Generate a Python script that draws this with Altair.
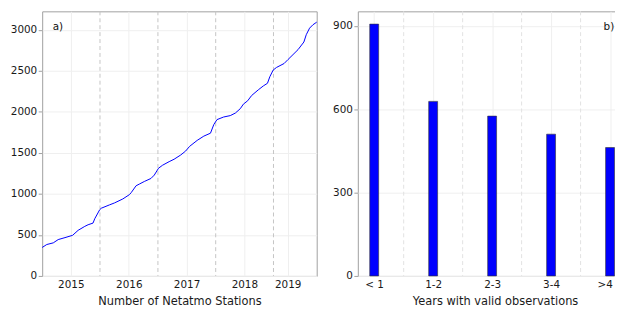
import altair as alt
import pandas as pd

# ---- panel a: number of Netatmo stations over time ----
dates = ["2015-01-01", "2015-01-30", "2015-03-12", "2015-04-12", "2015-05-25", "2015-07-12",
         "2015-08-16", "2015-09-27", "2015-10-18", "2015-11-18", "2015-11-29", "2015-12-30",
         "2016-01-09", "2016-03-01", "2016-04-02", "2016-05-24", "2016-07-05", "2016-07-16",
         "2016-08-16", "2016-09-06", "2016-10-07", "2016-11-18", "2016-12-09", "2017-01-05",
         "2017-01-30", "2017-03-13", "2017-04-13", "2017-05-25", "2017-06-25", "2017-07-20",
         "2017-09-06", "2017-10-18", "2017-11-29", "2017-12-20", "2018-01-09", "2018-02-20",
         "2018-04-03", "2018-05-05", "2018-06-05", "2018-06-25", "2018-07-22", "2018-08-16",
         "2018-09-27", "2018-10-29", "2018-11-24", "2018-12-09", "2018-12-30", "2019-01-20",
         "2019-03-09", "2019-04-03", "2019-06-05", "2019-07-12", "2019-07-27", "2019-08-17",
         "2019-09-07", "2019-10-01"]
stations = [347, 383, 403, 443, 467, 495,
            556, 604, 624, 644, 697, 806,
            825, 866, 890, 938, 991, 1015,
            1099, 1120, 1151, 1188, 1229, 1313,
            1349, 1393, 1422, 1474, 1522, 1579,
            1652, 1704, 1740, 1845, 1905, 1937,
            1954, 1985, 2038, 2094, 2135, 2199,
            2268, 2316, 2348, 2428, 2509, 2541,
            2589, 2638, 2758, 2851, 2940, 3020,
            3061, 3093]
year_boundaries = ["2016-01-01", "2017-01-01", "2018-01-01", "2019-01-01"]
year_ticks = [(2015, 7, 1), (2016, 7, 1), (2017, 7, 1), (2018, 7, 1), (2019, 4, 1)]

# ---- panel b: years with valid observations ----
categories = ["< 1", "1-2", "2-3", "3-4", ">4"]
counts = [906, 628, 575, 510, 462]

FONT = "DejaVu Sans"
BLUE = "#0000ff"
AXIS_GRAY = "#a0a0a0"

df_line = pd.DataFrame({"date": dates, "n": stations})
df_bound = pd.DataFrame({"date": year_boundaries})
df_bar = pd.DataFrame({"pos": list(range(len(categories))), "cat": categories, "count": counts})
df_mid = pd.DataFrame({"pos": [i + 0.5 for i in range(len(categories) - 1)]})

W, H = 277, 267

xscale = alt.Scale(type="utc", domain=["2015-01-01", "2019-10-01"])
xaxis = alt.Axis(
    title="Number of Netatmo Stations",
    values=[alt.DateTime(year=y, month=m, date=d, utc=True) for y, m, d in year_ticks],
    format="%Y", ticks=False, labelPadding=4, grid=True, gridColor="#efefef",
    domain=False,
)
yaxis_a = alt.Axis(title=None, values=[0, 500, 1000, 1500, 2000, 2500, 3000], format="d",
                   grid=True, gridColor="#efefef", tickSize=4, domain=False)

line = alt.Chart(df_line).mark_line(color=BLUE, strokeWidth=1).encode(
    x=alt.X("date:T", scale=xscale, axis=xaxis),
    y=alt.Y("n:Q", scale=alt.Scale(domain=[0, 3225], nice=False), axis=yaxis_a),
)
bounds = alt.Chart(df_bound).mark_rule(color="#c4c4c4", strokeDash=[4, 3], strokeWidth=1).encode(
    x=alt.X("date:T", scale=xscale)
)
label_a = alt.Chart(pd.DataFrame({"t": ["a)"]})).mark_text(
    align="left", baseline="middle", font=FONT, fontSize=10.5, color="#111"
).encode(x=alt.value(10.6), y=alt.value(16), text="t:N")

left = alt.layer(bounds, line, label_a).properties(width=W, height=H)

last = len(categories) - 1
xaxis_b = alt.Axis(
    title="Years with valid observations", values=list(range(len(categories))),
    labelExpr="[" + ",".join("'%s'" % c for c in categories) + "][datum.value]",
    labelOffset={"condition": {"test": "datum.value == %d" % last, "value": -5.5}, "value": 0},
    ticks=False, labelPadding=4, grid=True, gridColor="#efefef", domain=False,
)
xscale_b = alt.Scale(domain=[-0.2773, 4.378], nice=False, zero=False, padding=0)
bars = alt.Chart(df_bar).mark_bar(size=9, color=BLUE, stroke="#333", strokeWidth=0.6).encode(
    x=alt.X("pos:Q", scale=xscale_b, axis=xaxis_b),
    y=alt.Y("count:Q", scale=alt.Scale(domain=[0, 952], nice=False),
            axis=alt.Axis(title=None, values=[0, 300, 600, 900], grid=True,
                          gridColor="#efefef", tickSize=4, domain=False)),
)
mids = alt.Chart(df_mid).mark_rule(color="#e2e2e2", strokeDash=[4, 3], strokeWidth=1).encode(
    x=alt.X("pos:Q", scale=xscale_b)
)
label_b = alt.Chart(pd.DataFrame({"t": ["b)"]})).mark_text(
    align="left", baseline="middle", font=FONT, fontSize=10.5, color="#111"
).encode(x=alt.value(248), y=alt.value(16), text="t:N")

right = alt.layer(mids, bars, label_b).properties(width=W, height=H)

chart = alt.hconcat(left, right, spacing=11.5).properties(
    padding={"left": 1.5, "top": 1, "right": -18, "bottom": 0}
).configure(font=FONT).configure_view(
    stroke=AXIS_GRAY, strokeWidth=1
).configure_axis(
    labelFont=FONT, labelFontSize=10.5, labelColor="#1a1a1a",
    titleFont=FONT, titleFontSize=11.5, titleFontWeight="normal", titleColor="#1a1a1a",
    titlePadding=5, tickColor=AXIS_GRAY, labelPadding=1.5,
)

chart.save("out.html", embed_options={"renderer": "svg", "actions": False})
